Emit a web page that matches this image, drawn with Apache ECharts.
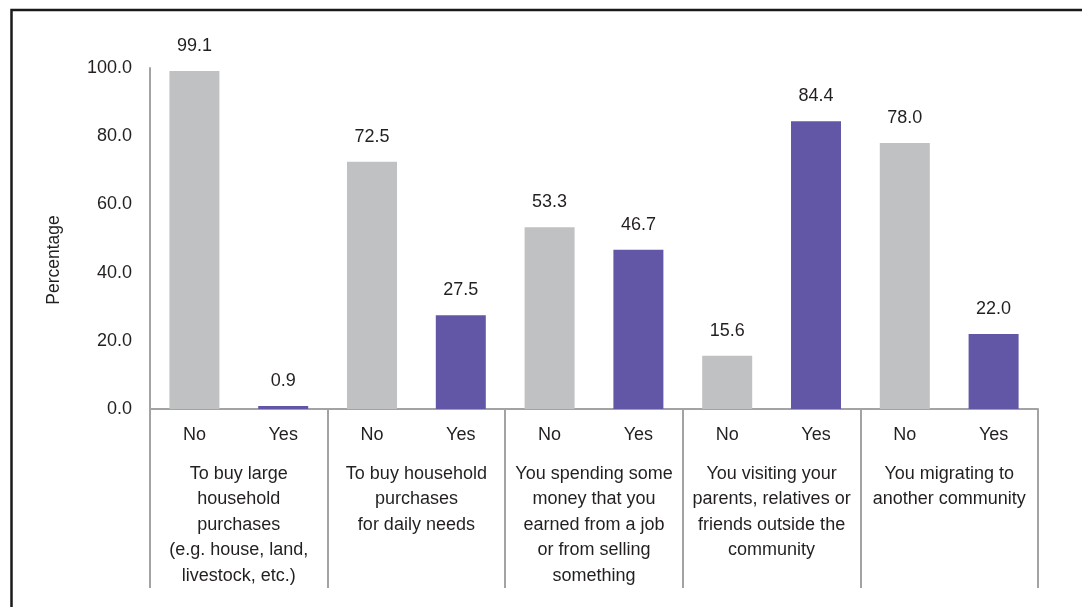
<!DOCTYPE html>
<html>
<head>
<meta charset="utf-8">
<script src="https://cdn.jsdelivr.net/npm/echarts@6/dist/echarts.min.js"></script>
<style>
  html, body { margin: 0; padding: 0; background: #fff; }
  #chart { width: 1082px; height: 607px; }
</style>
</head>
<body>
<div id="chart"></div>
<script>
// Answer categories for each bar (No / Yes pairs)
const answers = ['No', 'Yes', 'No', 'Yes', 'No', 'Yes', 'No', 'Yes', 'No', 'Yes'];
// Reason groups shown under each pair
const groups = [
  'To buy large\nhousehold\npurchases\n(e.g. house, land,\nlivestock, etc.)',
  'To buy household\npurchases\nfor daily needs',
  'You spending some\nmoney that you\nearned from a job\nor from selling\nsomething',
  'You visiting your\nparents, relatives or\nfriends outside the\ncommunity',
  'You migrating to\nanother community'
];
// Percentages per bar
const values = [99.1, 0.9, 72.5, 27.5, 53.3, 46.7, 15.6, 84.4, 78.0, 22.0];
// Y-axis tick range
const yMin = 0, yMax = 100, yStep = 20;

const FONT = '"Liberation Sans", Arial, sans-serif';
const FS = 18;
const TEXT = '#231f20';
const AXIS = '#a3a3a5';
const NO_COLOR = '#c0c1c3';
const YES_COLOR = '#6257a6';

const chart = echarts.init(document.getElementById('chart'), null, { renderer: 'canvas' });

chart.setOption({
  animation: false,
  backgroundColor: '#ffffff',
  grid: { left: 150, right: 44, top: 68, bottom: 198, containLabel: false },
  graphic: [
    {
      type: 'rect',
      shape: { x: 11.5, y: 10, width: 1200, height: 800 },
      style: { fill: 'none', stroke: '#1a1a1a', lineWidth: 2.5 },
      silent: true
    },
    {
      type: 'text',
      x: 54, y: 260,
      rotation: Math.PI / 2,
      style: {
        text: 'Percentage',
        font: '17.5px ' + FONT,
        fill: TEXT,
        textAlign: 'center',
        textVerticalAlign: 'middle'
      }
    }
  ],
  xAxis: [
    {
      type: 'category',
      data: answers,
      position: 'bottom',
      axisLine: { show: true, lineStyle: { color: AXIS, width: 2 } },
      axisTick: { show: false },
      axisLabel: { color: TEXT, fontFamily: FONT, fontSize: FS, margin: 17, interval: 0 }
    },
    {
      type: 'category',
      data: groups,
      position: 'bottom',
      axisLine: { show: false },
      axisTick: { show: true, length: 179, alignWithLabel: false, lineStyle: { color: AXIS, width: 2 } },
      axisLabel: {
        color: TEXT, fontFamily: FONT, fontSize: FS, lineHeight: 25.5,
        margin: 52, interval: 0, align: 'center'
      }
    }
  ],
  yAxis: {
    type: 'value',
    min: yMin, max: yMax, interval: yStep,
    axisLine: { show: true, lineStyle: { color: AXIS, width: 2 } },
    axisTick: { show: false },
    splitLine: { show: false },
    axisLabel: {
      color: TEXT, fontFamily: FONT, fontSize: FS, margin: 18,
      formatter: v => v.toFixed(1)
    }
  },
  series: [{
    type: 'bar',
    xAxisIndex: 0,
    data: values.map((v, i) => ({
      value: v,
      itemStyle: { color: answers[i] === 'Yes' ? YES_COLOR : NO_COLOR }
    })),
    barWidth: 50,
    label: {
      show: true,
      position: 'top',
      distance: 16,
      color: TEXT,
      fontFamily: FONT,
      fontSize: FS,
      formatter: p => p.value.toFixed(1)
    }
  }]
});
</script>
</body>
</html>
